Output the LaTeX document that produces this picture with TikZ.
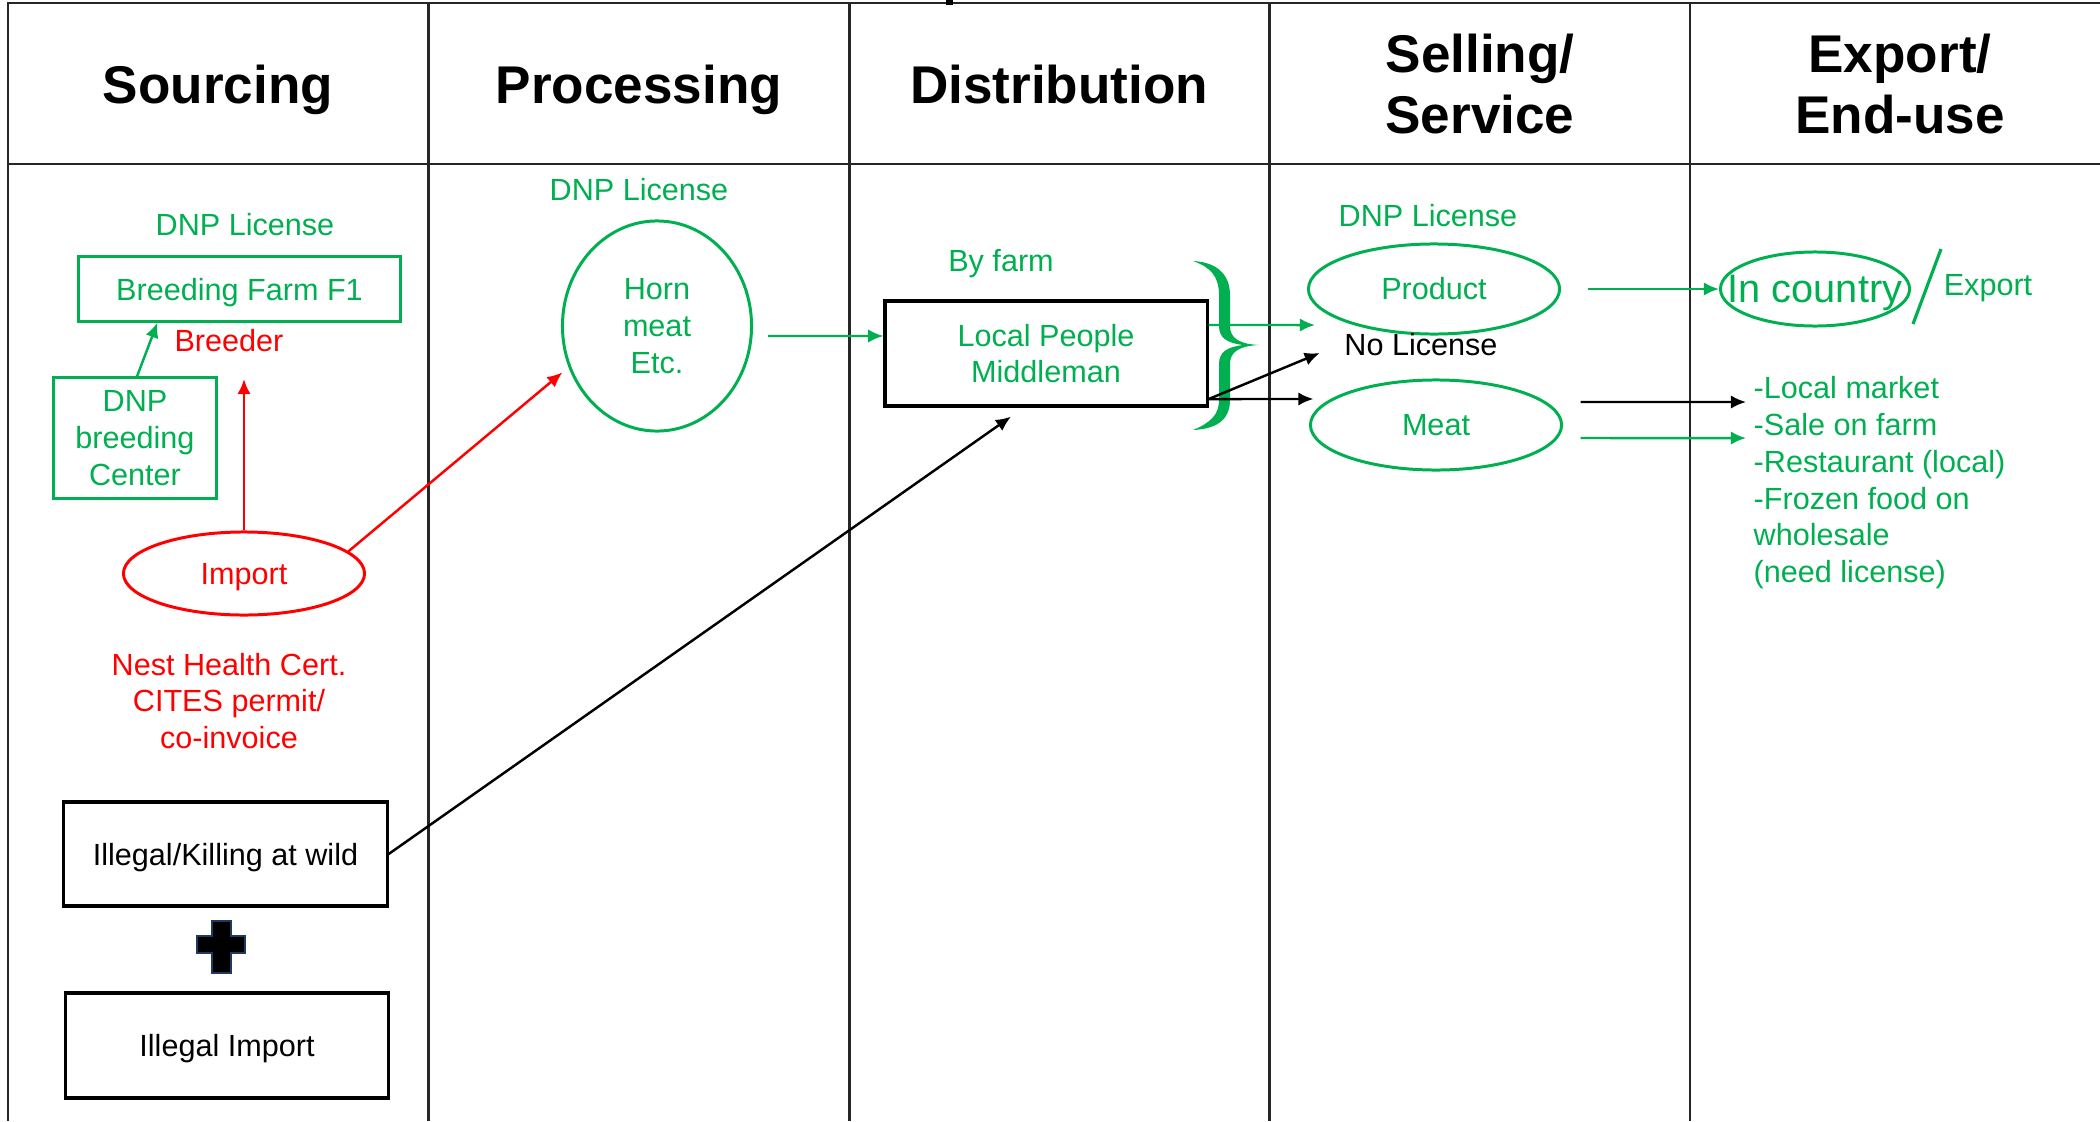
\documentclass[tikz,border=0pt]{standalone}
\usepackage{fontspec}
\setmainfont{Liberation Sans}
\usetikzlibrary{shapes.geometric,arrows.meta,calc}
\definecolor{lgreen}{HTML}{00B050}
\definecolor{lred}{HTML}{FF0000}
\definecolor{navy}{HTML}{1F3864}
\definecolor{rulecol}{HTML}{262626}

\begin{document}
\begin{tikzpicture}[x=0.01cm,y=-0.01cm,
  body/.style={font=\fontsize{8.7pt}{10.45pt}\selectfont, inner sep=0pt, align=center},
  flat/.style={text depth=0pt},
  head/.style={font=\fontsize{15.1pt}{17.1pt}\selectfont\bfseries, inner sep=0pt, align=center},
  gbox/.style={body, rectangle, draw=lgreen, text=lgreen, line width=0.85pt},
  kbox/.style={body, rectangle, draw=black, line width=0.9pt},
  gell/.style={body, ellipse, draw=lgreen, text=lgreen, line width=0.85pt},
  rell/.style={body, ellipse, draw=lred, text=lred, line width=0.85pt},
  flow/.style={-{Latex[length=4.3pt,width=3.8pt]}, line width=0.7pt},
  tablerule/.style={draw=rulecol, line width=0.75pt}]

\useasboundingbox (0,0) rectangle (2100,1121);
\fill[white] (0,0) rectangle (2100,1121);

% table frame and column rules
\draw[tablerule] (8,1121) -- (8,3) -- (2100,3);
\draw[tablerule] (8,164) -- (2100,164);
\foreach \cx in {428.6,849.3,1269.6,1690} \draw[tablerule] (\cx,3) -- (\cx,1121);
\fill[black] (946,0) rectangle (953,5);

% column headings
\node[head, anchor=base] (hsrc) at (218,103) {Sourcing};
\node[head, anchor=base] (hproc) at (639,103) {Processing};
\node[head, anchor=base] (hdist) at (1059,103) {Distribution};
\node[head] (hsell) at (1480,84) {Selling/\\Service};
\node[head] (hexp) at (1900,84) {Export/\\End-use};

% sourcing
\node[body, text=lgreen] (lic1) at (245,225) {DNP License};
\node[gbox, flat, minimum width=3.21cm, minimum height=0.64cm] (farm) at (239.5,289) {Breeding Farm F1};
\node[body, flat, text=lred] (breeder) at (229,340) {Breeder};
\node[gbox, minimum width=1.62cm, minimum height=1.2cm] (dnpc) at (135,438) {DNP\\breeding\\Center};
\node[rell, flat, minimum width=2.41cm, minimum height=0.83cm] (import) at (244,573.5) {Import};
\coordinate (impup) at (244,379);
\node[body, text=lred] (certs) at (229,701) {Nest Health Cert.\\CITES permit/\\co-invoice};
\node[kbox, flat, minimum width=3.23cm, minimum height=1.04cm] (kill) at (225.5,854) {Illegal/Killing at wild};
\node[kbox, flat, minimum width=3.22cm, minimum height=1.05cm] (illimp) at (227,1045.5) {Illegal Import};
\draw[fill=black, draw=navy, line width=0.8pt] (212,921) -- (231,921) -- (231,936) -- (245,936) -- (245,953)
  -- (231,953) -- (231,973) -- (212,973) -- (212,953) -- (197,953) -- (197,936) -- (212,936) -- cycle;

% processing
\node[body, text=lgreen] (lic2) at (639,190) {DNP License};
\node[gell, minimum width=1.89cm, minimum height=2.10cm] (horn) at (657,326) {Horn\\meat\\Etc.};

% distribution
\node[body, flat, text=lgreen] (byfarm) at (1001,260) {By farm};
\node[kbox, text=lgreen, minimum width=3.22cm, minimum height=1.05cm] (local) at (1046,353.5) {Local People\\Middleman};
\fill[lgreen] (1193,261) .. controls (1215,262) and (1230,273) .. (1230,295) -- (1230,326)
  .. controls (1230,338) and (1239,344) .. (1259,345)
  .. controls (1239,346) and (1230,352) .. (1230,364) -- (1230,400)
  .. controls (1230,421) and (1215,429) .. (1193,430)
  .. controls (1210,423) and (1219,415) .. (1219,400) -- (1219,364)
  .. controls (1219,352) and (1227,347) .. (1243,345)
  .. controls (1227,343) and (1219,338) .. (1219,326) -- (1219,295)
  .. controls (1219,276) and (1210,267) .. (1193,261) -- cycle;

% selling / service
\node[body, text=lgreen] (lic3) at (1428,216) {DNP License};
\node[gell, minimum width=2.51cm, minimum height=0.9cm] (product) at (1434,289) {Product};
\node[body] (nolic) at (1421,345) {No License};
\node[gell, minimum width=2.51cm, minimum height=0.9cm] (meat) at (1436,425) {Meat};

% export / end-use
\node[ellipse, draw=lgreen, line width=0.85pt, inner sep=0pt, minimum width=1.89cm, minimum height=0.74cm] (incountry) at (1815,289) {};
\node[inner sep=0pt, text depth=0pt, text=lgreen, font=\fontsize{11.3pt}{13pt}\selectfont] (incountrytxt) at (1815,289) {In country};
\draw[lgreen, line width=0.9pt] (1941,249) -- (1913,324);
\node[body, flat, text=lgreen] (export) at (1988,285) {Export};
\node[body, text=lgreen, align=left, anchor=north west] (uses) at (1753,376)
  {-Local market\\-Sale on farm\\-Restaurant (local)\\-Frozen food on\\wholesale\\(need license)};

% connectors
\draw[flow, lgreen] ([xshift=0.02cm]dnpc.north) -- ([xshift=0.8cm]farm.south west);
\draw[flow, lred] (import.north) -- (impup);
\draw[flow, lred, shorten >=0.08cm] (import.12) -- (horn.205);
\draw[flow, lgreen] ([xshift=0.15cm,yshift=-0.1cm]horn.east) -- ([yshift=0.175cm]local.west);
\draw[flow, black] (kill.east) -- ([xshift=-0.35cm,yshift=-0.09cm]local.south);
\draw[flow, lgreen] ([yshift=0.285cm]local.east) -- ([xshift=0.08cm,yshift=-0.36cm]product.west);
\draw[flow, black] ([yshift=-0.455cm]local.east) -- ([xshift=-0.24cm,yshift=-0.08cm]nolic.west);
\draw[flow, black] ([yshift=-0.455cm]local.east) -- ([xshift=0.045cm,yshift=0.26cm]meat.west);
\draw[flow, lgreen] ([xshift=0.265cm]product.east) -- (incountry.west);
\draw[flow, black] ([xshift=0.175cm,yshift=0.23cm]meat.east) -- ([xshift=-0.07cm,yshift=-0.26cm]uses.north west);
\draw[flow, lgreen] ([xshift=0.175cm,yshift=-0.13cm]meat.east) -- ([xshift=-0.07cm,yshift=-0.62cm]uses.north west);
\end{tikzpicture}
\end{document}
